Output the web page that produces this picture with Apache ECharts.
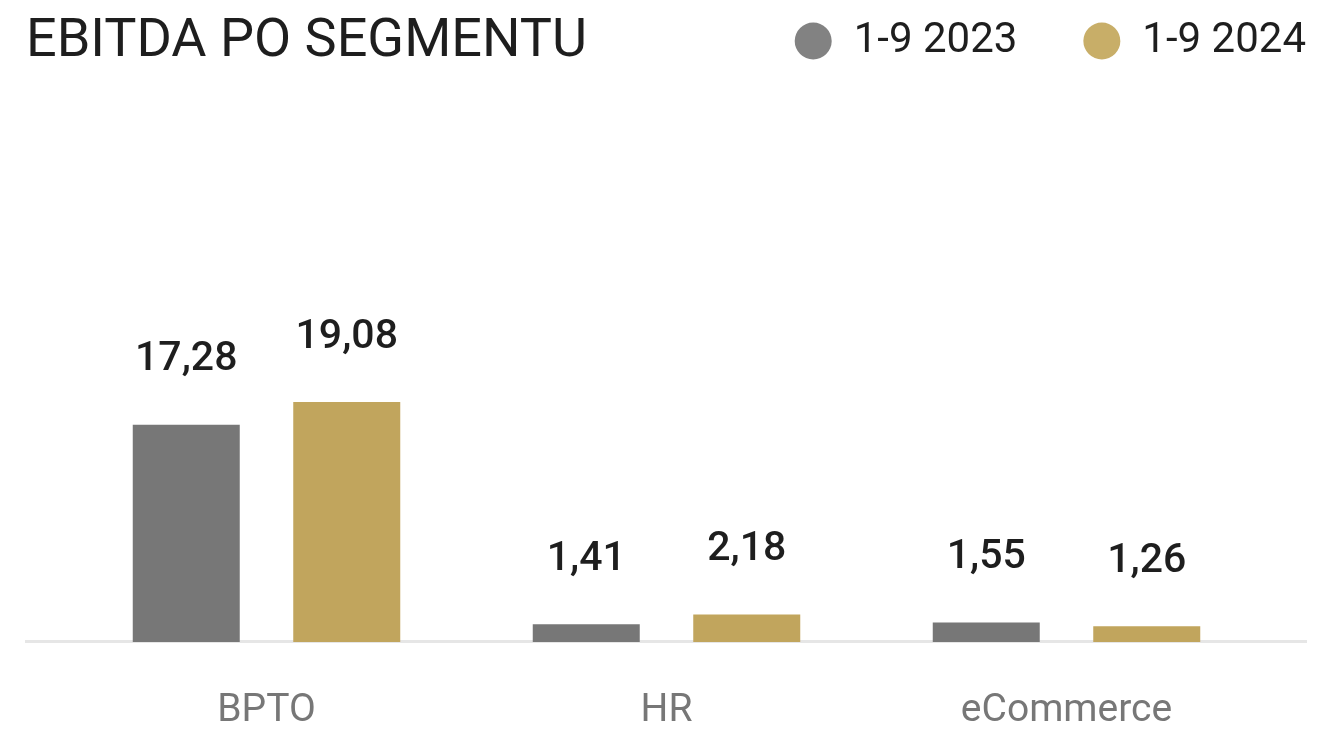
<!DOCTYPE html>
<html>
<head>
<meta charset="utf-8">
<title>EBITDA po segmentu</title>
<script src="https://cdn.jsdelivr.net/npm/echarts@6/dist/echarts.min.js"></script>
<style>
  html, body { margin: 0; padding: 0; background: #fff; }
  #chart { width: 1342px; height: 731px; }
</style>
</head>
<body>
<div id="chart"></div>
<script>
// data
var categories = ["BPTO", "HR", "eCommerce"];
var seriesNames = ["1-9 2023", "1-9 2024"];
var values2023 = [17.28, 1.41, 1.55];
var values2024 = [19.08, 2.18, 1.26];

var barColors = ["#777777", "#c1a55d"];
var legendColors = ["#828282", "#c8ae68"];

// cislo s desetinnou carkou
function fmt(p) {
  return p.value.toFixed(2).replace(".", ",");
}

function makeSeries(name, data, color) {
  return {
    name: name,
    type: "bar",
    data: data,
    barWidth: 107,
    barGap: "50%",
    itemStyle: { color: color },
    label: {
      show: true,
      position: "top",
      distance: 44,
      formatter: fmt,
      fontFamily: "Roboto",
      fontWeight: 500,
      fontSize: 41,
      color: "#1e1e1e"
    },
    emphasis: { disabled: true },
    z: 3
  };
}

var myChart = echarts.init(document.getElementById("chart"));

myChart.setOption({
  animation: false,
  title: {
    text: "EBITDA PO SEGMENTU",
    left: 21,
    top: 10,
    textStyle: {
      fontFamily: "Roboto",
      fontWeight: 400,
      fontSize: 54,
      color: "#1e1e1e"
    }
  },
  legend: {
    right: 31,
    top: 15,
    icon: "circle",
    itemWidth: 37,
    itemHeight: 37,
    itemGap: 66,
    data: [
      { name: seriesNames[0], itemStyle: { color: legendColors[0] } },
      { name: seriesNames[1], itemStyle: { color: legendColors[1] } }
    ],
    textStyle: {
      fontFamily: "Roboto",
      fontSize: 42,
      color: "#1e1e1e",
      padding: [0, 0, 0, 17]
    }
  },
  grid: {
    left: 66.5,
    right: 75.5,
    top: 139,
    bottom: 88
  },
  xAxis: {
    type: "category",
    data: categories,
    axisLine: { show: false },
    axisTick: { show: false },
    axisLabel: {
      margin: 50,
      fontFamily: "Roboto",
      fontSize: 39,
      color: "#777777"
    }
  },
  yAxis: {
    type: "value",
    min: 0,
    max: 40,
    interval: 10,
    show: false,
    splitLine: { show: false }
  },
  // linka zakladny pres celou sirku
  graphic: [{
    type: "line",
    z: 1,
    shape: { x1: 25, y1: 641.5, x2: 1307, y2: 641.5 },
    style: { stroke: "#e6e6e6", lineWidth: 3 }
  }],
  series: [
    makeSeries(seriesNames[0], values2023, barColors[0]),
    makeSeries(seriesNames[1], values2024, barColors[1])
  ]
});
</script>
</body>
</html>
